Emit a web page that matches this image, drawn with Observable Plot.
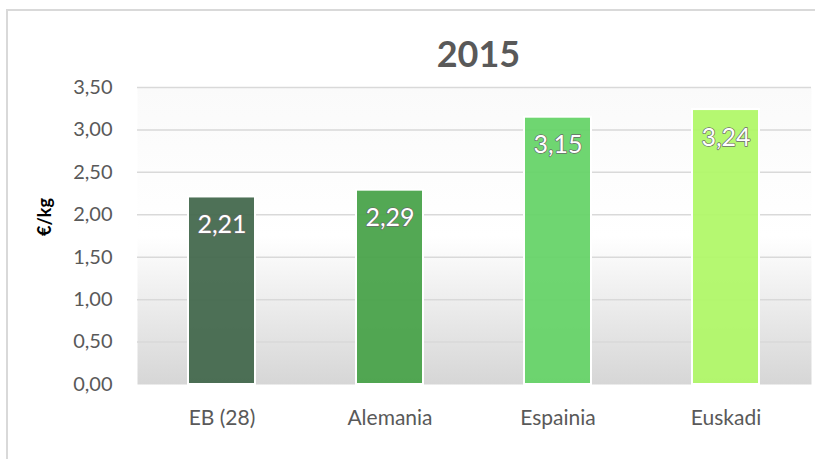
<!DOCTYPE html>
<html>
<head>
<meta charset="utf-8">
<script src="https://cdn.jsdelivr.net/npm/d3@7"></script>
<script src="https://cdn.jsdelivr.net/npm/@observablehq/plot@0.6"></script>
<style>
  html, body { margin: 0; padding: 0; background: #fff; overflow: hidden; }
  #wrap { position: relative; width: 815px; height: 459px; overflow: hidden; font-family: Lato, "Open Sans", sans-serif; }
  #border { position: absolute; left: 6px; top: 9px; width: 900px; height: 600px; border: 2px solid #d9d9d9; box-sizing: border-box; }
  #chart { position: absolute; left: 0; top: 0; }
</style>
</head>
<body>
<div id="wrap"><div id="border"></div><div id="chart"></div></div>
<script>
const categories = ["EB (28)", "Alemania", "Espainia", "Euskadi"];
const values = [2.21, 2.29, 3.15, 3.24];
const barColors = ["#41664a", "#46a147", "#64d366", "#aff866"];
const yTicks = [0, 0.5, 1, 1.5, 2, 2.5, 3, 3.5];
const title = "2015";
const yLabel = "€/kg";

const data = categories.map((c, i) => ({ cat: c, value: values[i], color: barColors[i] }));
const fmt = d => d.toFixed(2).replace(".", ",");

const plot = Plot.plot({
  width: 815,
  height: 459,
  marginTop: 87,
  marginBottom: 75,
  marginLeft: 137,
  marginRight: 4,
  style: { fontFamily: "Lato, 'Open Sans', sans-serif", background: "transparent", overflow: "visible" },
  x: { domain: categories, paddingInner: 0.6, paddingOuter: 0.3, label: null },
  y: { domain: [0, 3.5], label: null },
  marks: [
    Plot.frame({ fill: "url(#bgGrad)", stroke: "none" }),
    Plot.ruleY(yTicks.filter(d => d > 0), { stroke: "#d9d9d9", strokeWidth: 1.5 }),
    Plot.barY(data, { x: "cat", y: "value", fill: "color", fillOpacity: 0.93, stroke: "#ffffff", strokeWidth: 2 }),
    Plot.text(data, { x: "cat", y: "value", text: d => fmt(d.value), dy: 28, lineAnchor: "middle",
      fill: "#ffffff", stroke: "#6a6a6a", strokeWidth: 1.4, paintOrder: "stroke", fontSize: 25 }),
    Plot.axisY({ ticks: yTicks, tickFormat: fmt, tickSize: 0, tickPadding: 25, fontSize: 20, color: "#595959", label: null }),
    Plot.axisX({ tickSize: 0, tickPadding: 26, fontSize: 21, color: "#595959", label: null }),
    Plot.text([title], { frameAnchor: "top", dy: -32, dx: 4, text: d => d, fontSize: 36, fontWeight: "bold", fill: "#595959", lineAnchor: "middle" }),
    Plot.text([yLabel], { frameAnchor: "left", dx: -92, rotate: -90, text: d => d, fontSize: 18, fontWeight: "bold", fill: "#000000", lineAnchor: "middle" })
  ]
});

const svg = d3.select(plot);
const defs = svg.insert("defs", ":first-child");
const grad = defs.append("linearGradient").attr("id", "bgGrad").attr("x1", 0).attr("y1", 0).attr("x2", 0).attr("y2", 1);
grad.append("stop").attr("offset", "0%").attr("stop-color", "#fafafa");
grad.append("stop").attr("offset", "50%").attr("stop-color", "#ffffff");
grad.append("stop").attr("offset", "100%").attr("stop-color", "#d6d6d6");

document.getElementById("chart").appendChild(plot);
</script>
</body>
</html>
